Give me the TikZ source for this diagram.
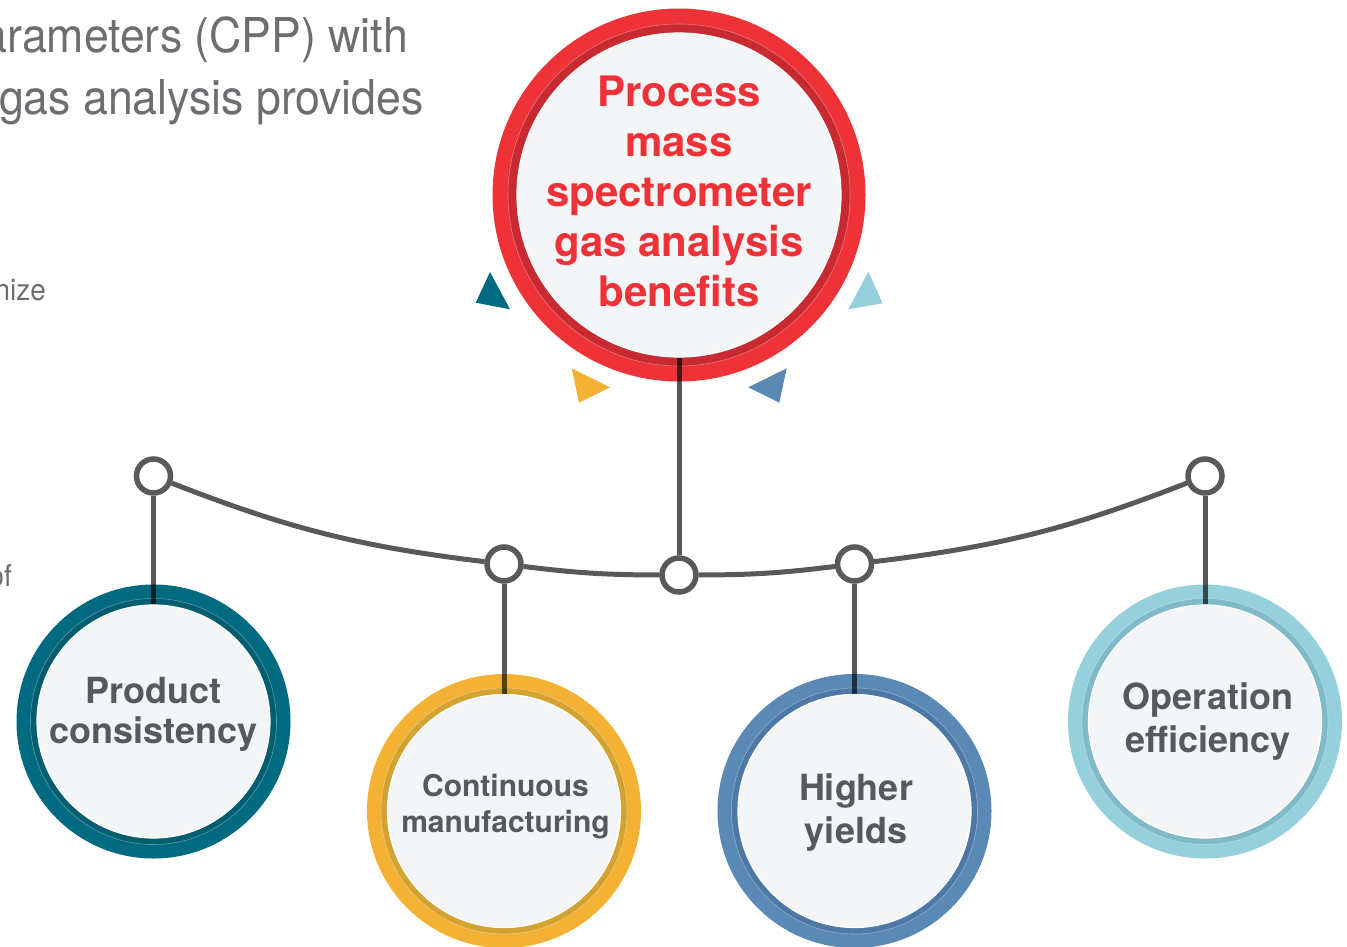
\documentclass[tikz,border=0pt]{standalone}
\usepackage{fontspec}
\setmainfont{TeX Gyre Heros}
\newfontfamily\lightfont[FakeStretch=0.93]{TeX Gyre Heros}
\definecolor{cred}{HTML}{EE3237}
\definecolor{credd}{HTML}{C92A32}
\definecolor{cteal}{HTML}{006A80}
\definecolor{ctealdd}{HTML}{005C6F}
\definecolor{cyel}{HTML}{F3B234}
\definecolor{cyeldd}{HTML}{D3A230}
\definecolor{cblue}{HTML}{5B89B5}
\definecolor{cbluedd}{HTML}{4E79A6}
\definecolor{clb}{HTML}{96D0DC}
\definecolor{clbdd}{HTML}{80B9C8}
\definecolor{corefill}{HTML}{F4F5F7}
\definecolor{linegray}{HTML}{58595B}
\definecolor{textgray}{HTML}{6D6E71}
\begin{document}
\begin{tikzpicture}[x=1pt,y=1pt,
  conn/.style={draw=linegray, line width=5pt},
  dot/.style={circle, draw=linegray, line width=5.5pt, fill=white, minimum size=34pt, inner sep=0pt},
  core/.style={circle, fill=corefill, draw=white, line width=1.2pt, inner sep=0pt},
  lbl/.style={text=linegray, align=center, inner sep=0pt},
  bgtext/.style={anchor=base east, inner sep=0pt, text=textgray}]
\useasboundingbox (0,0) rectangle (1347,-946);
\clip (0,0) rectangle (1347,-946);

% background text
\node[bgtext, font=\lightfont\fontsize{48}{58}\selectfont] (tl1) at (408,-52) {arameters (CPP) with};
\node[bgtext, font=\lightfont\fontsize{48}{58}\selectfont] (tl2) at (424,-114) {gas analysis provides};
\node[bgtext, font=\lightfont\fontsize{30}{36}\selectfont] (tl3) at (46,-300) {nize};
\node[bgtext, font=\lightfont\fontsize{30}{36}\selectfont] (tl4) at (12,-586) {of};

% rings
\fill[cred] (679,-195) circle (186.5);
\fill[credd] (679,-195) circle (171);
\draw[white, opacity=0.35, line width=0.6pt] (679,-195) circle (171);

\fill[cteal] (153.5,-721.5) circle (137);
\fill[ctealdd] (153.5,-721.5) circle (123);
\draw[white, opacity=0.35, line width=0.6pt] (153.5,-721.5) circle (123);

\fill[cyel] (504,-811) circle (137);
\fill[cyeldd] (504,-811) circle (123);
\draw[white, opacity=0.35, line width=0.6pt] (504,-811) circle (123);

\fill[cblue] (854.5,-811) circle (137);
\fill[cbluedd] (854.5,-811) circle (123);
\draw[white, opacity=0.35, line width=0.6pt] (854.5,-811) circle (123);

\fill[clb] (1205,-721.5) circle (137);
\fill[clbdd] (1205,-721.5) circle (123);
\draw[white, opacity=0.35, line width=0.6pt] (1205,-721.5) circle (123);

% cores
\node[core, minimum size=324pt] (main) at (679,-195) {};
\node[core, minimum size=233pt] (b1) at (153.5,-721.5) {};
\node[core, minimum size=233pt] (b2) at (504,-811) {};
\node[core, minimum size=233pt] (b3) at (854.5,-811) {};
\node[core, minimum size=233pt] (b4) at (1205,-721.5) {};

% small triangles
\fill[cteal] (490,-272) -- (475.7,-302.7) -- (510,-309.3) -- cycle;
\fill[clb] (868.3,-271.7) -- (882.7,-303.3) -- (848.3,-309.3) -- cycle;
\fill[cyel] (571.7,-368.3) -- (610,-387.3) -- (579,-402.7) -- cycle;
\fill[cblue] (786.7,-368.3) -- (748.3,-387.3) -- (779.3,-402.7) -- cycle;

% junction dots
\node[dot] (p1) at (153.5,-476) {};
\node[dot] (p2) at (504,-564) {};
\node[dot] (p3) at (679,-575) {};
\node[dot] (p4) at (854.5,-564) {};
\node[dot] (p5) at (1205,-476) {};

% connectors
\begin{scope}[blend mode=multiply]
\draw[conn] (p1) to[bend right=7.2] (p2);
\draw[conn] (p2) to[bend right=3.5] (p3);
\draw[conn] (p3) to[bend right=3.5] (p4);
\draw[conn] (p4) to[bend right=7.2] (p5);
\draw[conn] (main) -- (p3);
\draw[conn] (p1) -- (b1);
\draw[conn] (p2) -- (b2);
\draw[conn] (p4) -- (b3);
\draw[conn] (p5) -- (b4);
\end{scope}

% labels
\node[lbl, text=cred, font=\bfseries\fontsize{42}{50}\selectfont] (maintxt) at (679,-191)
  {Process\\mass\\spectrometer\\gas analysis\\benefits};
\node[lbl, font=\bfseries\fontsize{36}{40}\selectfont] (t1) at (153.5,-714) {Product\\consistency};
\node[lbl, font=\bfseries\fontsize{30}{36}\selectfont] (t2) at (505.5,-807) {Continuous\\manufacturing};
\node[lbl, font=\bfseries\fontsize{36}{43}\selectfont] (t3) at (856,-813) {Higher\\yields};
\node[lbl, font=\bfseries\fontsize{36}{43}\selectfont] (t4) at (1208,-722) {Operation\\efficiency};
\end{tikzpicture}
\end{document}
